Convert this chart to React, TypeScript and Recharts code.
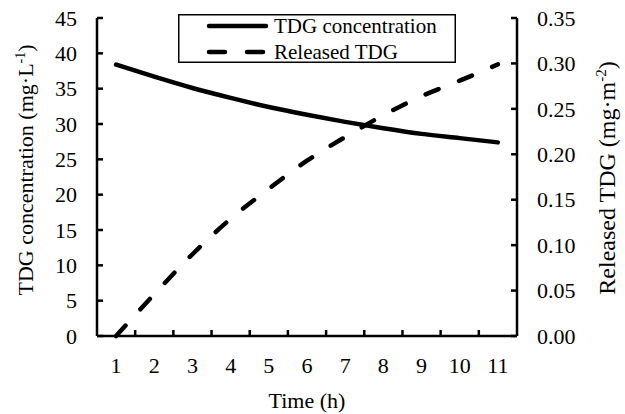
import React from 'react'
import { LineChart, Line, XAxis, YAxis, Legend } from 'recharts'

const hours = [1, 2, 3, 4, 5, 6, 7, 8, 9, 10, 11]
const tdgConcentration = [38.4, 36.7, 35.1, 33.7, 32.4, 31.3, 30.3, 29.4, 28.6, 28.0, 27.4]
const releasedTdg = [0, 0.046, 0.09, 0.129, 0.162, 0.193, 0.219, 0.243, 0.264, 0.281, 0.299]

const leftTicks = [0, 5, 10, 15, 20, 25, 30, 35, 40, 45]
const rightTicks = [0, 0.05, 0.1, 0.15, 0.2, 0.25, 0.3, 0.35]
// labels sit on the hours, tick marks sit between them
const xBoundaries = [1.5, 2.5, 3.5, 4.5, 5.5, 6.5, 7.5, 8.5, 9.5, 10.5]
const xTicks = [...hours, ...xBoundaries].sort((a, b) => a - b)

const FONT = 'Liberation Serif, DejaVu Serif, serif'
const DASH = '14 22'

const data = hours.map((h, i) => ({
  hour: h,
  tdg: tdgConcentration[i],
  released: releasedTdg[i]
}))

const txt = { fontFamily: FONT, fill: '#000' }

const LeftTick = ({ x, y, payload }: any) => (
  <g>
    <line x1={x} x2={x + 6} y1={y} y2={y} stroke="#000" strokeWidth={2.5} />
    <text x={x - 20} y={y} dy="0.35em" textAnchor="end" fontSize={22} style={txt}>
      {payload.value}
    </text>
  </g>
)

const RightTick = ({ x, y, payload }: any) => (
  <g>
    <line x1={x} x2={x - 6} y1={y} y2={y} stroke="#000" strokeWidth={2.5} />
    <text x={x + 20} y={y} dy="0.35em" textAnchor="start" fontSize={22} style={txt}>
      {payload.value.toFixed(2)}
    </text>
  </g>
)

const BottomTick = ({ x, y, payload }: any) => {
  if (!Number.isInteger(payload.value)) {
    return <line x1={x} x2={x} y1={y} y2={y - 6} stroke="#000" strokeWidth={2.5} />
  }
  return (
    <text x={x} y={y + 29} dy="0.35em" textAnchor="middle" fontSize={22} style={txt}>
      {payload.value}
    </text>
  )
}

const LegendBox = () => (
  <svg width={278} height={49} style={{ display: 'block' }}>
    <rect x={0.75} y={0.75} width={276.5} height={47.5} fill="#fff" stroke="#000" strokeWidth={1.5} />
    <line x1={31} x2={88} y1={12} y2={12} stroke="#000" strokeWidth={4.5} strokeLinecap="round" />
    <text x={96} y={12} dy="0.35em" fontSize={21} style={txt}>TDG concentration</text>
    <line x1={31} x2={90} y1={38} y2={38} stroke="#000" strokeWidth={4.5} strokeLinecap="round" strokeDasharray="16 22" />
    <text x={96} y={38} dy="0.35em" fontSize={21} style={txt}>Released TDG</text>
  </svg>
)

export default function App() {
  return (
    <div style={{ position: 'absolute', left: 0, top: 0 }}>
      <LineChart width={625} height={414} data={data} margin={{ top: 18, right: 0, bottom: 0, left: 0 }}>
        <XAxis
          dataKey="hour"
          type="number"
          domain={[0.5, 11.5]}
          ticks={xTicks}
          interval={0}
          height={78}
          tickSize={0}
          tickMargin={0}
          tick={<BottomTick />}
          axisLine={{ stroke: '#000', strokeWidth: 2.5 }}
          label={{
            content: ({ viewBox }: any) => (
              <text
                x={viewBox.x + viewBox.width / 2}
                y={viewBox.y + 64}
                dy="0.35em"
                textAnchor="middle"
                fontSize={22}
                style={txt}
              >
                Time (h)
              </text>
            )
          }}
        />
        <YAxis
          yAxisId="left"
          width={97}
          domain={[0, 45]}
          ticks={leftTicks}
          interval={0}
          tickSize={0}
          tickMargin={0}
          tick={<LeftTick />}
          axisLine={{ stroke: '#000', strokeWidth: 2.5 }}
          label={{
            content: ({ viewBox }: any) => {
              const cx = viewBox.x + 25
              const cy = viewBox.y + 152
              return (
                <text
                  x={cx}
                  y={cy}
                  dy="0.35em"
                  transform={`rotate(-90 ${cx} ${cy})`}
                  textAnchor="middle"
                  fontSize={22}
                  style={txt}
                >
                  TDG concentration (mg·L
                  <tspan dy={-8} fontSize={14}>-1</tspan>
                  <tspan dy={8}>)</tspan>
                </text>
              )
            }
          }}
        />
        <YAxis
          yAxisId="right"
          orientation="right"
          width={108}
          domain={[0, 0.35]}
          ticks={rightTicks}
          interval={0}
          tickSize={0}
          tickMargin={0}
          tick={<RightTick />}
          axisLine={{ stroke: '#000', strokeWidth: 2.5 }}
          label={{
            content: ({ viewBox }: any) => {
              const cx = viewBox.x + 90
              const cy = viewBox.y + 160
              return (
                <text
                  x={cx}
                  y={cy}
                  dy="0.35em"
                  transform={`rotate(-90 ${cx} ${cy})`}
                  textAnchor="middle"
                  fontSize={24}
                  style={txt}
                >
                  Released TDG (mg·m
                  <tspan dy={-9} fontSize={15}>-2</tspan>
                  <tspan dy={9}>)</tspan>
                </text>
              )
            }
          }}
        />
        <Legend
          layout="vertical"
          align="center"
          verticalAlign="middle"
          wrapperStyle={{ left: 178, top: 14, width: 278, height: 49 }}
          content={() => <LegendBox />}
        />
        <Line
          yAxisId="left"
          type="monotone"
          dataKey="tdg"
          stroke="#000"
          strokeWidth={4.5}
          strokeLinecap="round"
          dot={false}
          activeDot={false}
          isAnimationActive={false}
        />
        <Line
          yAxisId="right"
          type="monotone"
          dataKey="released"
          stroke="#000"
          strokeWidth={4.5}
          strokeLinecap="round"
          strokeDasharray={DASH}
          dot={false}
          activeDot={false}
          isAnimationActive={false}
        />
      </LineChart>
    </div>
  )
}
